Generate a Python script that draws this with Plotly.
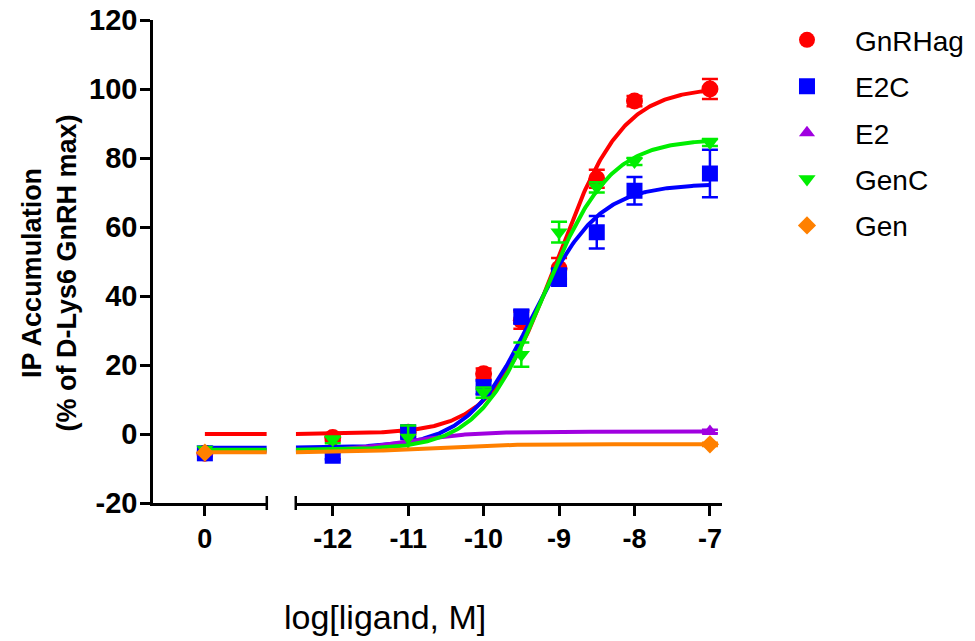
import numpy as np
import plotly.graph_objects as go

# ---------------- data ----------------
series_names = ["GnRHag", "E2C", "E2", "GenC", "Gen"]
colors = ["#ff0000", "#0000ff", "#a000e0", "#00ee00", "#ff8000"]
symbols = ["circle", "square", "triangle-up", "triangle-down", "diamond"]
marker_sizes = [17, 16, 14, 15, 14]

ctrl_x = [0]
ctrl_y = {"GnRHag": -5.6, "E2C": -5.6, "E2": -5.2, "GenC": -4.5, "Gen": -5.4}

log_conc = [-12, -11, -10, -9.5, -9, -8.5, -8, -7]
gnrhag_y = [-1.0, 0.5, 17.5, 33.0, 48.0, 74.0, 96.5, 100.0]
gnrhag_err = [1.0, 1.0, 1.5, 2.5, 3.0, 2.6, 1.5, 2.9]
e2c_y = [-6.3, 0.5, 13.5, 34.0, 45.5, 58.5, 70.5, 75.5]
e2c_err = [1.0, 1.5, 2.0, 2.0, 2.5, 4.7, 4.0, 6.9]
genc_y = [-1.7, -1.0, 12.0, 23.0, 58.5, 71.5, 79.0, 84.5]
genc_err = [1.0, 3.5, 1.5, 3.5, 3.0, 1.5, 1.0, 1.0]
e2_x = [-7]
e2_y = [0.7]
e2_err = [0.5]
gen_x = [-7]
gen_y = [-3.0]
gen_err = [0.5]

points = {
    "GnRHag": (log_conc, gnrhag_y, gnrhag_err),
    "E2C": (log_conc, e2c_y, e2c_err),
    "E2": (e2_x, e2_y, e2_err),
    "GenC": (log_conc, genc_y, genc_err),
    "Gen": (gen_x, gen_y, gen_err),
}

# sigmoidal dose-response fit parameters (bottom, top, logEC50, hill)
fit_params = {
    "GnRHag": (0.0, 100.5, -9.03, 1.0),
    "E2C": (-4.0, 72.5, -9.35, 1.0),
    "E2": (-5.0, 0.7, -11.0, 1.0),
    "GenC": (-4.6, 85.5, -9.2, 1.0),
    "Gen": (-5.3, -3.0, -10.8, 1.0),
}

x_ticks_ctrl = [0]
x_ticks_ctrl_text = ["0"]
x_ticks_log = [-12, -11, -10, -9, -8, -7]
x_ticks_log_text = ["-12", "-11", "-10", "-9", "-8", "-7"]
y_ticks = [-20, 0, 20, 40, 60, 80, 100, 120]
y_ticks_text = ["-20", "0", "20", "40", "60", "80", "100", "120"]

# ---------------- layout constants ----------------
seg1_range = [-0.693, 0.827]
seg2_range = [-12.49, -6.84]
dom1 = [0.0, 0.2]
dom2 = [0.2509, 1.0]
FONT = "Liberation Sans, Arial, Helvetica, sans-serif"
LW = 2.5


def logistic(x, bottom, top, logec50, hill):
    return bottom + (top - bottom) / (1 + 10 ** ((logec50 - x) * hill))


fig = go.Figure()
for name, col, sym, ms in zip(series_names, colors, symbols, marker_sizes):
    b, t, ec, h = fit_params[name]
    # flat line in control segment (bottom plateau)
    xs1 = np.linspace(0, seg1_range[1], 10)
    fig.add_trace(go.Scatter(x=xs1, y=logistic(-30, b, t, ec, h) * np.ones_like(xs1),
                             mode="lines", line=dict(color=col, width=4),
                             xaxis="x", yaxis="y", showlegend=False, hoverinfo="skip"))
    # fitted curve in log segment
    xs2 = np.linspace(seg2_range[0], -7, 300)
    fig.add_trace(go.Scatter(x=xs2, y=logistic(xs2, b, t, ec, h),
                             mode="lines", line=dict(color=col, width=4),
                             xaxis="x2", yaxis="y", showlegend=False, hoverinfo="skip"))
    # control point
    fig.add_trace(go.Scatter(x=ctrl_x, y=[ctrl_y[name]], mode="markers",
                             marker=dict(color=col, symbol=sym, size=ms, line=dict(width=0)),
                             xaxis="x", yaxis="y", showlegend=False))
    px, py, pe = points[name]
    fig.add_trace(go.Scatter(x=px, y=py, mode="markers", name=name,
                             marker=dict(color=col, symbol=sym, size=ms, line=dict(width=0)),
                             error_y=dict(type="data", array=pe, color=col, thickness=LW, width=8),
                             xaxis="x2", yaxis="y", showlegend=True, legendgroup=name))

axis_common = dict(showline=True, linecolor="black", linewidth=LW, ticks="outside",
                   ticklen=10, tickwidth=LW, tickcolor="black", showgrid=False, zeroline=False)
xfont = dict(family=FONT, size=27, color="black", weight="bold")
yfont = dict(family=FONT, size=29, color="black", weight="bold")

fig.update_layout(
    width=975, height=641,
    margin=dict(l=153, r=253, t=20, b=138, autoexpand=False),
    paper_bgcolor="white", plot_bgcolor="white",
    font=dict(family=FONT, color="black"),
    xaxis=dict(domain=dom1, range=seg1_range, tickmode="array", tickvals=x_ticks_ctrl,
               ticktext=x_ticks_ctrl_text, anchor="y", tickfont=xfont, **axis_common),
    xaxis2=dict(domain=dom2, range=seg2_range, tickmode="array", tickvals=x_ticks_log,
                ticktext=x_ticks_log_text, anchor="y", tickfont=xfont, **axis_common),
    yaxis=dict(range=[-20, 120], tickmode="array", tickvals=y_ticks, ticktext=y_ticks_text,
               anchor="x", tickfont=yfont, ticklabelstandoff=-3, **axis_common),
    legend=dict(x=1.065, y=1.010, xanchor="left", yanchor="top",
                font=dict(family=FONT, size=28, color="black"),
                tracegroupgap=7, itemwidth=86, bgcolor="rgba(0,0,0,0)"),
    showlegend=True,
)

# axis break marks
for xp in (dom1[1], dom2[0]):
    fig.add_shape(type="line", xref="paper", yref="paper", x0=xp, x1=xp,
                  ysizemode="pixel", yanchor=0, y0=-7, y1=7,
                  line=dict(color="black", width=LW))

fig.add_annotation(text="log[ligand, M]", xref="paper", yref="paper",
                   x=0.408, y=-0.235, xanchor="center", yanchor="middle", showarrow=False,
                   font=dict(family=FONT, size=34, color="black"))
fig.add_annotation(text="<b>IP Accumulation</b><br><b>(% of D-Lys6 GnRH max)</b>",
                   xref="paper", yref="paper", x=-0.1816, y=0.4767, xanchor="center",
                   yanchor="middle", textangle=-90, showarrow=False,
                   font=dict(family=FONT, size=27, color="black"))

fig.write_html("out.html", config={"displayModeBar": False},
               post_script="document.body.style.margin='0px';")
